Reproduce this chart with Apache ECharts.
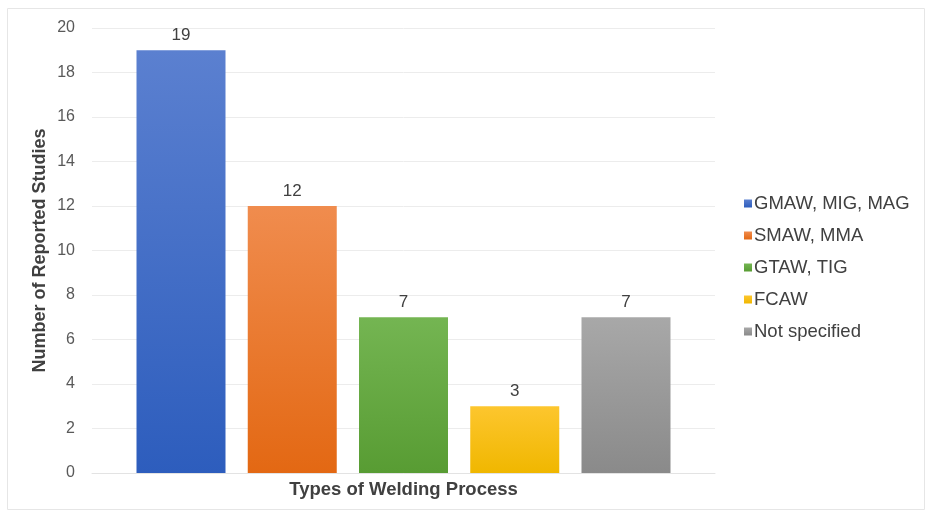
<!DOCTYPE html>
<html>
<head>
<meta charset="utf-8">
<script src="https://cdn.jsdelivr.net/npm/echarts@6/dist/echarts.min.js"></script>
<style>html,body{margin:0;padding:0;background:#fff}#c{width:926px;height:513px}</style>
</head>
<body>
<div id="c"></div>
<script>
const seriesNames = ['GMAW, MIG, MAG', 'SMAW, MMA', 'GTAW, TIG', 'FCAW', 'Not specified'];
const seriesValues = [19, 12, 7, 3, 7];
const topColors = ['#5b80d0', '#f08c4e', '#74b552', '#fdc62e', '#a8a8a8'];
const bottomColors = ['#2d5dbd', '#e36813', '#589c33', '#f0b700', '#8a8a8a'];
const yMin = 0, yMax = 20, yInterval = 2;

const chart = echarts.init(document.getElementById('c'));
const series = seriesNames.map((name, i) => ({
  name: name,
  type: 'bar',
  data: [seriesValues[i]],
  barWidth: 89,
  barGap: '25%',
  itemStyle: {
    color: new echarts.graphic.LinearGradient(0, 0, 0, 1, [
      { offset: 0, color: topColors[i] },
      { offset: 1, color: bottomColors[i] }
    ])
  },
  label: {
    show: true, position: 'top', distance: 6,
    color: '#404040', fontSize: 17, fontFamily: 'Liberation Sans, Arial, sans-serif'
  }
}));

chart.setOption({
  animation: false,
  textStyle: { fontFamily: 'Liberation Sans, Arial, sans-serif' },
  graphic: [{
    type: 'rect', shape: { x: 7.5, y: 8.5, width: 917, height: 501 },
    style: { fill: 'none', stroke: '#e6e6e6', lineWidth: 1 }, silent: true, z: -1
  }],
  grid: { left: 92, right: 211, top: 28, bottom: 40 },
  legend: {
    orient: 'vertical', left: 739, top: 189,
    itemWidth: 8, itemHeight: 8, itemGap: 13, icon: 'rect',
    textStyle: { fontSize: 18.5, color: '#404040', padding: [0, 0, 0, -3] },
    data: seriesNames
  },
  xAxis: {
    type: 'category', data: [''],
    name: 'Types of Welding Process', nameLocation: 'middle', nameGap: 7,
    nameMoveOverlap: false,
    nameTextStyle: { fontSize: 18.5, fontWeight: 'bold', color: '#404040' },
    axisLine: { show: true, lineStyle: { color: '#e3e3e3' } },
    axisTick: { show: false }, axisLabel: { show: false }
  },
  yAxis: {
    type: 'value', min: yMin, max: yMax, interval: yInterval,
    name: 'Number of Reported Studies', nameLocation: 'middle', nameGap: 43,
    nameMoveOverlap: false,
    nameTextStyle: { fontSize: 18, fontWeight: 'bold', color: '#404040' },
    axisLabel: { fontSize: 16, color: '#595959', margin: 17 },
    axisLine: { show: false }, axisTick: { show: false },
    splitLine: { lineStyle: { color: '#ececec' } }
  },
  series: series
});
</script>
</body>
</html>
